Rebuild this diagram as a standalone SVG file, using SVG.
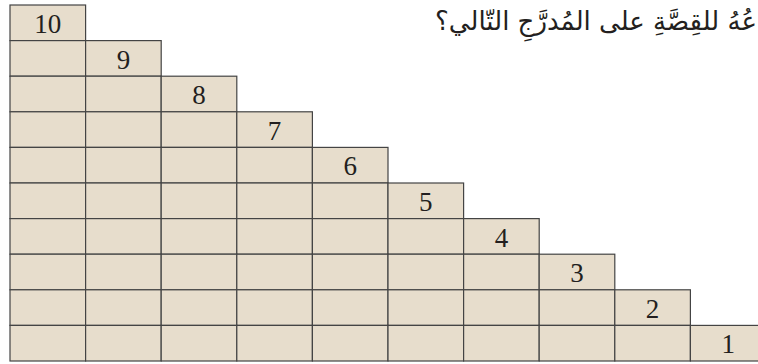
<svg xmlns="http://www.w3.org/2000/svg" width="758" height="364" viewBox="0 0 758 364">
<style>
.c{fill:#e7ddcc;stroke:#444;stroke-width:1.2}
.n{font-family:"Liberation Serif","DejaVu Serif",serif;font-size:27px;fill:#231f20;text-anchor:middle}
.t{font-family:"DejaVu Sans","Noto Sans",sans-serif;font-size:26px;fill:#231f20}
</style>
<rect width="758" height="364" fill="#fff"/>
<g id="title"><text class="t" x="757" y="30" direction="rtl" text-anchor="start">عُهُ للقِصَّةِ على المُدرَّجِ التّالي؟</text></g>
<g id="row10">
<rect class="c" x="10" y="5" width="75.6" height="35.6"/>
<text class="n" x="47.8" y="33">10</text>
</g>
<g id="row9">
<rect class="c" x="10" y="40.6" width="75.6" height="35.6"/><rect class="c" x="85.6" y="40.6" width="75.6" height="35.6"/>
<text class="n" x="123.4" y="68.6">9</text>
</g>
<g id="row8">
<rect class="c" x="10" y="76.2" width="75.6" height="35.6"/><rect class="c" x="85.6" y="76.2" width="75.6" height="35.6"/><rect class="c" x="161.2" y="76.2" width="75.6" height="35.6"/>
<text class="n" x="199" y="104.2">8</text>
</g>
<g id="row7">
<rect class="c" x="10" y="111.8" width="75.6" height="35.6"/><rect class="c" x="85.6" y="111.8" width="75.6" height="35.6"/><rect class="c" x="161.2" y="111.8" width="75.6" height="35.6"/><rect class="c" x="236.8" y="111.8" width="75.6" height="35.6"/>
<text class="n" x="274.6" y="139.8">7</text>
</g>
<g id="row6">
<rect class="c" x="10" y="147.4" width="75.6" height="35.6"/><rect class="c" x="85.6" y="147.4" width="75.6" height="35.6"/><rect class="c" x="161.2" y="147.4" width="75.6" height="35.6"/><rect class="c" x="236.8" y="147.4" width="75.6" height="35.6"/><rect class="c" x="312.4" y="147.4" width="75.6" height="35.6"/>
<text class="n" x="350.2" y="175.4">6</text>
</g>
<g id="row5">
<rect class="c" x="10" y="183" width="75.6" height="35.6"/><rect class="c" x="85.6" y="183" width="75.6" height="35.6"/><rect class="c" x="161.2" y="183" width="75.6" height="35.6"/><rect class="c" x="236.8" y="183" width="75.6" height="35.6"/><rect class="c" x="312.4" y="183" width="75.6" height="35.6"/><rect class="c" x="388" y="183" width="75.6" height="35.6"/>
<text class="n" x="425.8" y="211">5</text>
</g>
<g id="row4">
<rect class="c" x="10" y="218.6" width="75.6" height="35.6"/><rect class="c" x="85.6" y="218.6" width="75.6" height="35.6"/><rect class="c" x="161.2" y="218.6" width="75.6" height="35.6"/><rect class="c" x="236.8" y="218.6" width="75.6" height="35.6"/><rect class="c" x="312.4" y="218.6" width="75.6" height="35.6"/><rect class="c" x="388" y="218.6" width="75.6" height="35.6"/><rect class="c" x="463.6" y="218.6" width="75.6" height="35.6"/>
<text class="n" x="501.4" y="246.6">4</text>
</g>
<g id="row3">
<rect class="c" x="10" y="254.2" width="75.6" height="35.6"/><rect class="c" x="85.6" y="254.2" width="75.6" height="35.6"/><rect class="c" x="161.2" y="254.2" width="75.6" height="35.6"/><rect class="c" x="236.8" y="254.2" width="75.6" height="35.6"/><rect class="c" x="312.4" y="254.2" width="75.6" height="35.6"/><rect class="c" x="388" y="254.2" width="75.6" height="35.6"/><rect class="c" x="463.6" y="254.2" width="75.6" height="35.6"/><rect class="c" x="539.2" y="254.2" width="75.6" height="35.6"/>
<text class="n" x="577" y="282.2">3</text>
</g>
<g id="row2">
<rect class="c" x="10" y="289.8" width="75.6" height="35.6"/><rect class="c" x="85.6" y="289.8" width="75.6" height="35.6"/><rect class="c" x="161.2" y="289.8" width="75.6" height="35.6"/><rect class="c" x="236.8" y="289.8" width="75.6" height="35.6"/><rect class="c" x="312.4" y="289.8" width="75.6" height="35.6"/><rect class="c" x="388" y="289.8" width="75.6" height="35.6"/><rect class="c" x="463.6" y="289.8" width="75.6" height="35.6"/><rect class="c" x="539.2" y="289.8" width="75.6" height="35.6"/><rect class="c" x="614.8" y="289.8" width="75.6" height="35.6"/>
<text class="n" x="652.6" y="317.8">2</text>
</g>
<g id="row1">
<rect class="c" x="10" y="325.4" width="75.6" height="35.6"/><rect class="c" x="85.6" y="325.4" width="75.6" height="35.6"/><rect class="c" x="161.2" y="325.4" width="75.6" height="35.6"/><rect class="c" x="236.8" y="325.4" width="75.6" height="35.6"/><rect class="c" x="312.4" y="325.4" width="75.6" height="35.6"/><rect class="c" x="388" y="325.4" width="75.6" height="35.6"/><rect class="c" x="463.6" y="325.4" width="75.6" height="35.6"/><rect class="c" x="539.2" y="325.4" width="75.6" height="35.6"/><rect class="c" x="614.8" y="325.4" width="75.6" height="35.6"/><rect class="c" x="690.4" y="325.4" width="75.6" height="35.6"/>
<text class="n" x="728.2" y="353.4">1</text>
</g>
</svg>
